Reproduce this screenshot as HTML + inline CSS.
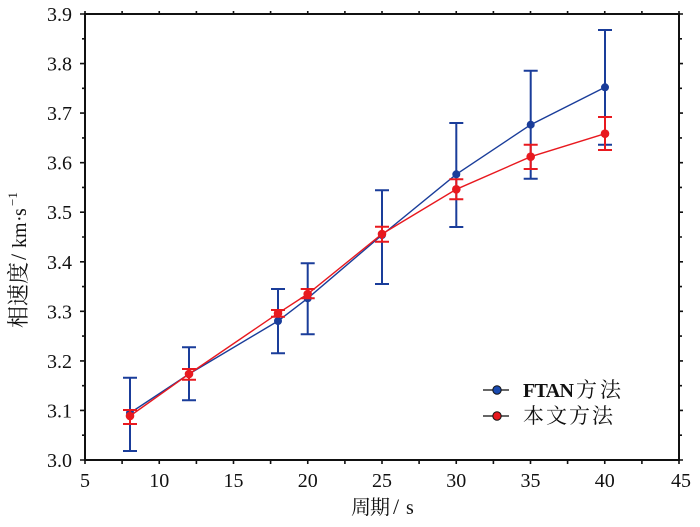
<!DOCTYPE html>
<html><head><meta charset="utf-8"><style>
html,body{margin:0;padding:0;background:#fff;}
svg{display:block;}
</style></head><body>
<svg width="700" height="527" viewBox="0 0 700 527" xmlns="http://www.w3.org/2000/svg">
<rect width="700" height="527" fill="#fff"/>
<!-- ticks -->
<g stroke="#111" stroke-width="1.6">
<path d="M85 460v4M122.1 460v4M159.25 460v4M196.4 460v4M233.5 460v4M270.6 460v4M307.75 460v4M344.9 460v4M382 460v4M419.1 460v4M456.25 460v4M493.4 460v4M530.5 460v4M567.6 460v4M604.75 460v4M641.9 460v4M679 460v4"/>
<path d="M85 14v-3M122.1 14v-3M159.25 14v-3M196.4 14v-3M233.5 14v-3M270.6 14v-3M307.75 14v-3M344.9 14v-3M382 14v-3M419.1 14v-3M456.25 14v-3M493.4 14v-3M530.5 14v-3M567.6 14v-3M604.75 14v-3M641.9 14v-3M679 14v-3"/>
<path d="M85 460h-5M85 410.4h-5M85 360.9h-5M85 311.3h-5M85 261.8h-5M85 212.2h-5M85 162.7h-5M85 113.1h-5M85 63.6h-5M85 14h-5"/>
<path d="M85 435.2h-3M85 385.7h-3M85 336.1h-3M85 286.6h-3M85 237h-3M85 187.4h-3M85 137.9h-3M85 88.3h-3M85 38.8h-3"/>
<path d="M679 460h4M679 410.4h4M679 360.9h4M679 311.3h4M679 261.8h4M679 212.2h4M679 162.7h4M679 113.1h4M679 63.6h4M679 14h4M679 435.2h3M679 385.7h3M679 336.1h3M679 286.6h3M679 237h3M679 187.4h3M679 137.9h3M679 88.3h3M679 38.8h3"/>
</g>
<rect x="85" y="14" width="594" height="446" fill="none" stroke="#111" stroke-width="2"/>

<!-- y tick labels -->
<g font-family="'Liberation Serif', serif" font-size="20" fill="#111" text-anchor="end">
<text x="72" y="467">3.0</text>
<text x="72" y="417.4">3.1</text>
<text x="72" y="367.9">3.2</text>
<text x="72" y="318.3">3.3</text>
<text x="72" y="268.8">3.4</text>
<text x="72" y="219.2">3.5</text>
<text x="72" y="169.7">3.6</text>
<text x="72" y="120.1">3.7</text>
<text x="72" y="70.6">3.8</text>
<text x="72" y="21">3.9</text>
</g>
<!-- x tick labels -->
<g font-family="'Liberation Serif', serif" font-size="20" fill="#111" text-anchor="middle">
<text x="85" y="487">5</text>
<text x="159.25" y="487">10</text>
<text x="233.5" y="487">15</text>
<text x="307.75" y="487">20</text>
<text x="382" y="487">25</text>
<text x="456.25" y="487">30</text>
<text x="530.5" y="487">35</text>
<text x="604.75" y="487">40</text>
<text x="681" y="487">45</text>
</g>

<!-- axis titles -->
<text y="514" font-family="'Liberation Serif', 'Noto Serif CJK SC', serif" font-size="20" fill="#111"><tspan x="351">周</tspan><tspan x="370">期</tspan><tspan x="393" font-size="22">/</tspan><tspan x="406">s</tspan></text>
<text transform="translate(26,328) rotate(-90)" y="0" font-family="'Liberation Serif', 'Noto Serif CJK SC', serif" font-size="22" fill="#111"><tspan x="0">相速度</tspan><tspan x="68" font-size="22">/</tspan><tspan x="80" font-size="20">km</tspan><tspan x="106" font-size="20">·</tspan><tspan x="112" font-size="20">s</tspan><tspan x="122" font-size="13" dy="-9">−1</tspan></text>

<!-- blue series -->
<g stroke="#1a3d9a" fill="none">
<polyline stroke-width="1.4" points="130,413 189,374 278,321 307.7,298.3 382,235 456.3,174.3 530.7,124.7 605,87.3"/>
<g stroke-width="2">
<path d="M130 377.7V451M123 377.7h14M123 451h14"/>
<path d="M189 347.3V400.3M182 347.3h14M182 400.3h14"/>
<path d="M278 289V353.3M271 289h14M271 353.3h14"/>
<path d="M307.7 263.3V334.3M300.7 263.3h14M300.7 334.3h14"/>
<path d="M382 190.3V284M375 190.3h14M375 284h14"/>
<path d="M456.3 123V227M449.3 123h14M449.3 227h14"/>
<path d="M530.7 70.7V178.7M523.7 70.7h14M523.7 178.7h14"/>
<path d="M605 30V144.7M598 30h14M598 144.7h14"/>
</g>
</g>
<g fill="#1a3d9a">
<circle cx="130" cy="413" r="4"/><circle cx="189" cy="374" r="4"/><circle cx="278" cy="321" r="4"/><circle cx="307.7" cy="298.3" r="4"/><circle cx="382" cy="235" r="4"/><circle cx="456.3" cy="174.3" r="4"/><circle cx="530.7" cy="124.7" r="4"/><circle cx="605" cy="87.3" r="4"/>
</g>

<!-- red series -->
<g stroke="#e8191f" fill="none">
<polyline stroke-width="1.4" points="130,416 189,374 278,313.3 307.7,294 382,234 456.3,189.3 530.7,156.7 605,133.7"/>
<g stroke-width="2">
<path d="M130 410V424M123 410h14M123 424h14"/>
<path d="M189 369V379.7M182 369h14M182 379.7h14"/>
<path d="M278 310V316.7M271 310h14M271 316.7h14"/>
<path d="M307.7 289V298.3M300.7 289h14M300.7 298.3h14"/>
<path d="M382 226.7V241.7M375 226.7h14M375 241.7h14"/>
<path d="M456.3 179.3V199.3M449.3 179.3h14M449.3 199.3h14"/>
<path d="M530.7 144.7V169M523.7 144.7h14M523.7 169h14"/>
<path d="M605 117V150M598 117h14M598 150h14"/>
</g>
</g>
<g fill="#e8191f">
<circle cx="130" cy="416" r="4.3"/><circle cx="189" cy="374" r="4.3"/><circle cx="278" cy="313.3" r="4.3"/><circle cx="307.7" cy="294" r="4.3"/><circle cx="382" cy="234" r="4.3"/><circle cx="456.3" cy="189.3" r="4.3"/><circle cx="530.7" cy="156.7" r="4.3"/><circle cx="605" cy="133.7" r="4.3"/>
</g>

<!-- legend -->
<g>
<path d="M483 390h26" stroke="#333" stroke-width="1.4"/>
<circle cx="497" cy="390" r="4.2" fill="#1a4ab0" stroke="#111" stroke-width="1"/>
<path d="M483 416h26" stroke="#333" stroke-width="1.4"/>
<circle cx="497" cy="416" r="4.2" fill="#e8191f" stroke="#111" stroke-width="1"/>
<text y="397" font-family="'Liberation Serif', 'Noto Serif CJK SC', serif" font-size="21" fill="#111"><tspan x="523" font-weight="bold" font-size="20" textLength="51" lengthAdjust="spacing">FTAN</tspan><tspan x="576">方</tspan><tspan x="600">法</tspan></text>
<text y="423" font-family="'Liberation Serif', 'Noto Serif CJK SC', serif" font-size="21" fill="#111"><tspan x="523">本</tspan><tspan x="546">文</tspan><tspan x="569">方</tspan><tspan x="592">法</tspan></text>
</g>
</svg>
</body></html>
